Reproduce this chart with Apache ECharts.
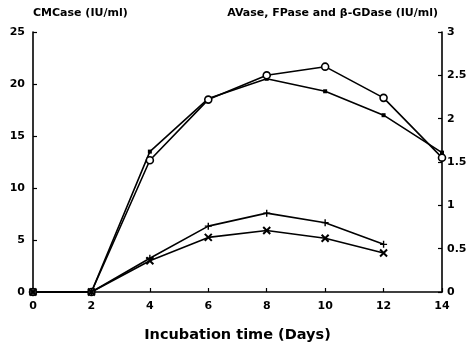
<!DOCTYPE html>
<html>
<head>
<meta charset="utf-8">
<script src="https://cdn.jsdelivr.net/npm/echarts@6/dist/echarts.min.js"></script>
<style>
  html,body{margin:0;padding:0;background:#fff;}
  #chart{width:470px;height:349px;}
</style>
</head>
<body>
<div id="chart"></div>
<script>
    // incubation days
    var days = [0, 2, 4, 6, 8, 10, 12, 14];
    var daysShort = [0, 2, 4, 6, 8, 10, 12];
    // CMCase (left axis, IU/ml)
    var cmcase = [0, 0, 13.5, 18.6, 20.5, 19.3, 17.0, 13.4];
    // right axis series (IU/ml)
    var circleVals = [0, 0, 1.52, 2.22, 2.5, 2.6, 2.24, 1.55];
    var plusVals = [0, 0, 0.39, 0.76, 0.91, 0.80, 0.55];
    var crossVals = [0, 0, 0.36, 0.63, 0.71, 0.62, 0.45];

    function pairs(xs, ys){
    	var out = [];
    	for(var i=0;i<ys.length;i++){
    		out.push([xs[i], ys[i]]);
    	}
    	return out;
    }

    var font = '"DejaVu Sans", Verdana, sans-serif';
    var black = '#000';

    function yAxisBase(){
    	return {
    		type:'value',
    		splitLine:{show:false},
    		axisLine:{show:true,lineStyle:{color:black,width:1.6}},
    		axisTick:{show:true,inside:true,length:4,lineStyle:{color:black,width:1.2}},
    		axisLabel:{color:black,fontFamily:font,fontWeight:'bold',fontSize:11},
    		nameTextStyle:{color:black,fontFamily:font,fontWeight:'bold',fontSize:11}
    	};
    }

    var left = yAxisBase();
    left.position = 'left';
    left.min = 0; left.max = 25; left.interval = 5;
    left.axisLabel.margin = 8;
    left.name = 'CMCase (IU/ml)';
    left.nameLocation = 'end';
    left.nameGap = 13;
    left.nameTextStyle.align = 'left';

    var right = yAxisBase();
    right.position = 'right';
    right.min = 0; right.max = 3; right.interval = 0.5;
    right.axisLabel.margin = 5;
    right.name = 'AVase, FPase and β-GDase (IU/ml)';
    right.nameLocation = 'end';
    right.nameGap = 13;
    right.nameTextStyle.align = 'right';
    right.nameTextStyle.padding = [0, 4, 0, 0];

    var option = {
    	backgroundColor:'#fff',
    	animation:false,
    	grid:{left:33,right:28,top:32,bottom:57},
    	xAxis:{
    		type:'value',
    		min:0,max:14,interval:2,
    		splitLine:{show:false},
    		axisLine:{show:true,lineStyle:{color:black,width:1.6}},
    		axisTick:{show:true,inside:true,length:4,lineStyle:{color:black,width:1.2}},
    		axisLabel:{color:black,fontFamily:font,fontWeight:'bold',fontSize:11,margin:9},
    		name:'Incubation time (Days)',
    		nameLocation:'middle',
    		nameGap:36,
    		nameTextStyle:{color:black,fontFamily:font,fontWeight:'bold',fontSize:14.5}
    	},
    	yAxis:[left, right],
    	series:[
    		{
    			name:'CMCase',type:'line',yAxisIndex:0,
    			data:pairs(days,cmcase),
    			symbol:'rect',symbolSize:4,
    			lineStyle:{color:black,width:1.6},
    			itemStyle:{color:black}
    		},
    		{
    			name:'circle',type:'line',yAxisIndex:1,
    			data:pairs(days,circleVals),
    			symbol:'circle',symbolSize:7,
    			lineStyle:{color:black,width:1.6},
    			itemStyle:{color:'#fff',borderColor:black,borderWidth:1.6}
    		},
    		{
    			name:'plus',type:'line',yAxisIndex:1,
    			data:pairs(daysShort,plusVals),
    			symbol:'path://M5,0L5,10M0,5L10,5',symbolSize:7,
    			lineStyle:{color:black,width:1.6},
    			itemStyle:{color:'none',borderColor:black,borderWidth:1.4}
    		},
    		{
    			name:'cross',type:'line',yAxisIndex:1,
    			data:pairs(daysShort,crossVals),
    			symbol:'path://M0,0L10,10M10,0L0,10',symbolSize:7,
    			lineStyle:{color:black,width:1.6},
    			itemStyle:{color:'none',borderColor:black,borderWidth:2}
    		}
    	]
    };

    var myChart = echarts.init(document.getElementById('chart'));
    myChart.setOption(option);
</script>
</body>
</html>
